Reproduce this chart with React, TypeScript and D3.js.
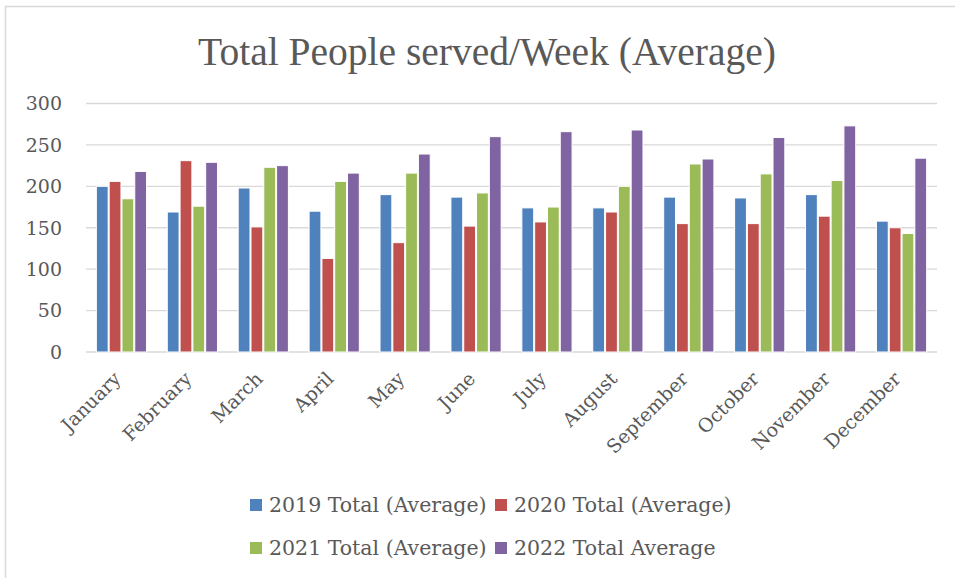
import { scaleBand, scaleLinear } from "d3";

const months = [
  "January", "February", "March", "April", "May", "June",
  "July", "August", "September", "October", "November", "December",
];
const seriesNames = [
  "2019 Total (Average)",
  "2020 Total (Average)",
  "2021 Total (Average)",
  "2022 Total Average",
];
const values2019 = [200, 169, 198, 170, 190, 187, 174, 174, 187, 186, 190, 158];
const values2020 = [206, 231, 151, 113, 132, 152, 157, 169, 155, 155, 164, 150];
const values2021 = [185, 176, 223, 206, 216, 192, 175, 200, 227, 215, 207, 143];
const values2022 = [218, 229, 225, 216, 239, 260, 266, 268, 233, 259, 273, 234];
const yTicks = [0, 50, 100, 150, 200, 250, 300];

const colors = ["#4F81BD", "#C0504D", "#9BBB59", "#8064A2"];
const allSeries = [values2019, values2020, values2021, values2022];

const W = 955;
const H = 578;
const textColor = "#595959";
const serif = "'DejaVu Serif', 'Liberation Serif', serif";

export default function App() {
  // plot area
  const left = 86, right = 937, top = 103.5, bottom = 352;

  const x = scaleBand<string>().domain(months).range([left, right]);
  const inner = scaleBand<number>()
    .domain([0, 1, 2, 3])
    .range([x.bandwidth() * 0.139, x.bandwidth() * 0.861]);
  const y = scaleLinear().domain([0, 300]).range([bottom, top]);

  const legendRows = [
    [0, 1],
    [2, 3],
  ];

  return (
    <svg
      width={W}
      height={H}
      style={{ position: "fixed", left: 0, top: 0, background: "#fff" }}
    >
      {/* chart border (top and left only visible) */}
      <line x1={5} x2={W} y1={6.5} y2={6.5} stroke="#d9d9d9" strokeWidth={1.5} />
      <line x1={5.5} x2={5.5} y1={6} y2={H} stroke="#d9d9d9" strokeWidth={1.5} />

      <text
        x={487}
        y={65}
        textAnchor="middle"
        fontFamily="'Liberation Serif', serif"
        fontSize={39.5}
        fill={textColor}
      >
        Total People served/Week (Average)
      </text>

      {/* grid + y ticks */}
      {yTicks.map((t) => (
        <g key={t}>
          <line x1={left} x2={right} y1={y(t)} y2={y(t)} stroke="#d9d9d9" strokeWidth={1.3} />
          <text
            x={62}
            y={y(t)}
            dy="0.36em"
            textAnchor="end"
            fontFamily={serif}
            fontSize={19}
            fill={textColor}
          >
            {t}
          </text>
        </g>
      ))}

      {/* bars */}
      {months.map((m, i) => (
        <g key={m} transform={`translate(${x(m)},0)`}>
          {allSeries.map((vals, s) => (
            <rect
              key={s}
              x={(inner(s) ?? 0) + 0.5}
              y={y(vals[i])}
              width={inner.bandwidth() - 1}
              height={y(0) - y(vals[i])}
              fill={colors[s]}
              stroke="#fff"
              strokeWidth={1}
            />
          ))}
        </g>
      ))}

      {/* x labels */}
      {months.map((m) => (
        <text
          key={m}
          transform={`translate(${(x(m) ?? 0) + x.bandwidth() / 2 + 0.5},380) rotate(-45)`}
          textAnchor="end"
          fontFamily={serif}
          fontSize={19}
          fill={textColor}
        >
          {m}
        </text>
      ))}

      {/* legend */}
      {legendRows.map((row, r) =>
        row.map((s, c) => (
          <g key={s} transform={`translate(${250 + c * 245},${505 + r * 43})`}>
            <rect x={0} y={-6} width={12} height={12} fill={colors[s]} />
            <text x={19} y={0} dy="0.36em" fontFamily={serif} fontSize={20.5} fill={textColor}>
              {seriesNames[s]}
            </text>
          </g>
        ))
      )}
    </svg>
  );
}
